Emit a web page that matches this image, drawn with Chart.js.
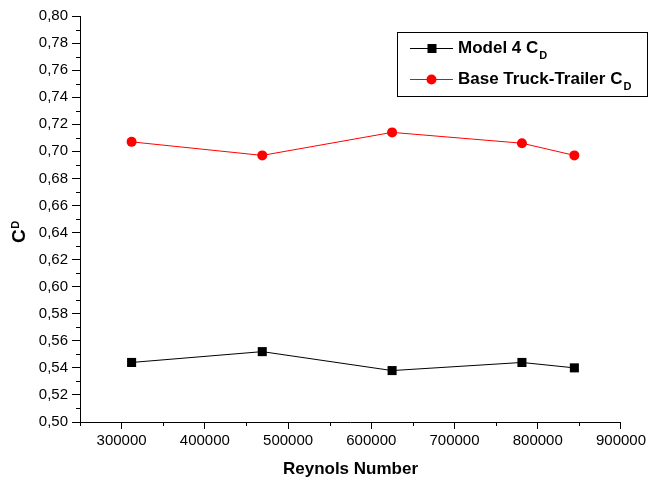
<!DOCTYPE html>
<html>
<head>
<meta charset="utf-8">
<script src="https://cdn.jsdelivr.net/npm/chart.js@4"></script>
<style>
  html, body { margin: 0; padding: 0; background: #fff; }
  canvas { display: block; }
</style>
</head>
<body>
<canvas id="c" width="649" height="484"></canvas>
<script>
// ---- data ----
const reynolds = [312000, 469000, 625000, 781000, 844000];
const model4Cd = [0.544, 0.552, 0.538, 0.544, 0.540];
const baseCd   = [0.707, 0.697, 0.714, 0.706, 0.697];
const seriesNames = ['Model 4 C', 'Base Truck-Trailer C'];
const subscript = 'D';
const xTitle = 'Reynols Number';
const yTitleMain = 'C';
const xMajorTicks = [300000, 400000, 500000, 600000, 700000, 800000, 900000];
const xMinorTicks = [250000, 350000, 450000, 550000, 650000, 750000, 850000];
const yMinorTicks = [0.51,0.53,0.55,0.57,0.59,0.61,0.63,0.65,0.67,0.69,0.71,0.73,0.75,0.77,0.79];

const FONT = '"Liberation Sans", Arial, sans-serif';

const toPts = (xs, ys) => xs.map((x, i) => ({x: x, y: ys[i]}));

const minorTicks = {
  id: 'minorTicks',
  afterDraw(chart) {
    const ctx = chart.ctx;
    const xs = chart.scales.x, ys = chart.scales.y;
    ctx.save();
    ctx.strokeStyle = '#000';
    ctx.lineWidth = 1;
    ctx.beginPath();
    yMinorTicks.forEach(v => {
      const p = Math.round(ys.getPixelForValue(v)) + 0.5;
      ctx.moveTo(xs.left - 4, p); ctx.lineTo(xs.left, p);
    });
    xMinorTicks.forEach(v => {
      const p = Math.round(xs.getPixelForValue(v)) + 0.5;
      ctx.moveTo(p, ys.bottom); ctx.lineTo(p, ys.bottom + 4);
    });
    ctx.stroke();
    ctx.restore();
  }
};

const yTitlePlugin = {
  id: 'yTitle',
  afterDraw(chart) {
    const ctx = chart.ctx;
    const cy = (chart.chartArea.top + chart.chartArea.bottom) / 2;
    ctx.save();
    ctx.fillStyle = '#000';
    ctx.translate(25, cy + 24);
    ctx.rotate(-Math.PI / 2);
    ctx.textBaseline = 'alphabetic';
    ctx.textAlign = 'left';
    ctx.font = 'bold 19px ' + FONT;
    ctx.fillText(yTitleMain, 0, 0);
    const w = ctx.measureText(yTitleMain).width;
    ctx.font = 'bold 11px ' + FONT;
    ctx.fillText(subscript, w + 0.5, -6);
    ctx.restore();
  }
};

const legendPlugin = {
  id: 'customLegend',
  afterDraw(chart) {
    const ctx = chart.ctx;
    const bx = 397.5, by = 32.5, bw = 250, bh = 64;
    ctx.save();
    ctx.fillStyle = '#fff';
    ctx.fillRect(bx, by, bw, bh);
    ctx.strokeStyle = '#000';
    ctx.lineWidth = 1;
    ctx.strokeRect(bx, by, bw, bh);
    const rows = [48, 79];
    chart.data.datasets.forEach((ds, i) => {
      const y = rows[i];
      ctx.strokeStyle = ds.borderColor;
      ctx.lineWidth = 1;
      ctx.beginPath();
      ctx.moveTo(410, y + 0.5); ctx.lineTo(453, y + 0.5);
      ctx.stroke();
      ctx.fillStyle = ds.backgroundColor;
      if (ds.pointStyle === 'rect') {
        ctx.fillRect(427.5, y - 4, 9, 9);
      } else {
        ctx.beginPath();
        ctx.arc(431.5, y + 0.5, 5, 0, Math.PI * 2);
        ctx.fill();
      }
      ctx.fillStyle = '#000';
      ctx.textBaseline = 'middle';
      ctx.textAlign = 'left';
      ctx.font = 'bold 17px ' + FONT;
      ctx.fillText(seriesNames[i], 458, y);
      const w = ctx.measureText(seriesNames[i]).width;
      ctx.font = 'bold 11px ' + FONT;
      ctx.fillText(subscript, 458 + w + 1, y + 8);
    });
    ctx.restore();
  }
};

new Chart(document.getElementById('c'), {
  type: 'scatter',
  data: {
    datasets: [
      {
        label: seriesNames[0] + subscript,
        data: toPts(reynolds, model4Cd),
        showLine: true,
        borderColor: '#000000',
        backgroundColor: '#000000',
        borderWidth: 1,
        pointStyle: 'rect',
        pointRadius: 6.4,
        pointHoverRadius: 6.4,
        pointBorderWidth: 0
      },
      {
        label: seriesNames[1] + subscript,
        data: toPts(reynolds, baseCd),
        showLine: true,
        borderColor: '#ff0000',
        backgroundColor: '#ff0000',
        borderWidth: 1,
        pointStyle: 'circle',
        pointRadius: 5,
        pointHoverRadius: 5,
        pointBorderWidth: 0
      }
    ]
  },
  options: {
    responsive: false,
    animation: false,
    devicePixelRatio: 1,
    layout: { padding: { top: 16, right: 27, left: 0, bottom: 0 } },
    plugins: { legend: { display: false }, tooltip: { enabled: false } },
    scales: {
      x: {
        type: 'linear',
        min: 250000,
        max: 900000,
        afterBuildTicks: s => { s.ticks = xMajorTicks.map(v => ({ value: v })); },
        afterFit: s => { s.height = 62; },
        ticks: {
          color: '#000',
          font: { family: FONT, size: 15 },
          padding: 3,
          maxRotation: 0,
          autoSkip: false,
          callback: v => String(v)
        },
        grid: { display: true, drawOnChartArea: false, drawTicks: true, tickLength: 7, tickColor: '#000', tickWidth: 1 },
        border: { display: true, color: '#000', width: 1 },
        title: {
          display: true,
          text: xTitle,
          color: '#000',
          font: { family: FONT, size: 17, weight: 'bold' },
          padding: { top: 0, bottom: 4 }
        }
      },
      y: {
        type: 'linear',
        min: 0.5,
        max: 0.8,
        afterFit: s => { s.width = 80; },
        ticks: {
          stepSize: 0.02,
          color: '#000',
          font: { family: FONT, size: 15 },
          padding: 4,
          autoSkip: false,
          callback: v => v.toFixed(2).replace('.', ',')
        },
        grid: { display: true, drawOnChartArea: false, drawTicks: true, tickLength: 8, tickColor: '#000', tickWidth: 1 },
        border: { display: true, color: '#000', width: 1 }
      }
    }
  },
  plugins: [minorTicks, yTitlePlugin, legendPlugin]
});
</script>
</body>
</html>
